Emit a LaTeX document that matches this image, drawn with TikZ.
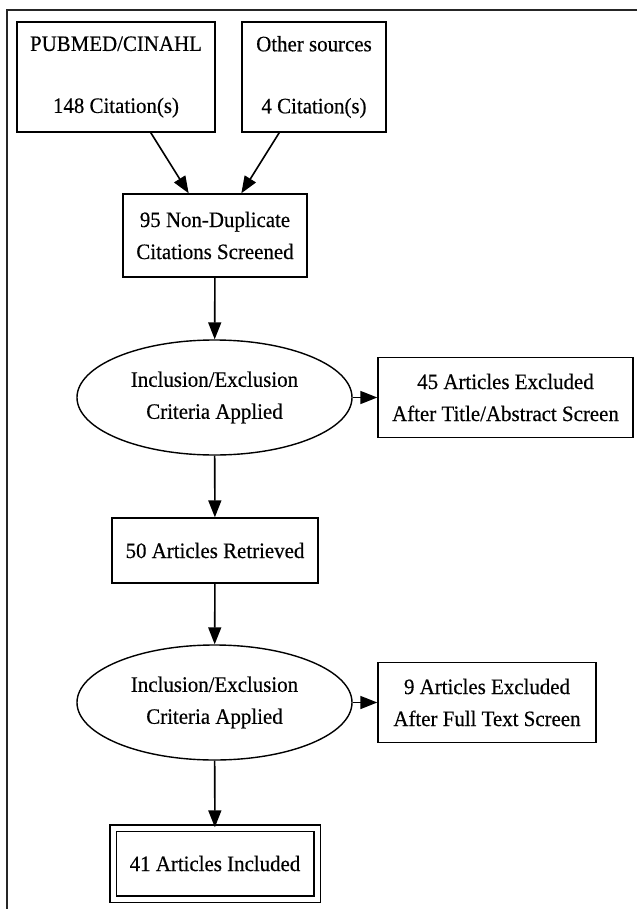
\documentclass[tikz,border=0pt]{standalone}
\usepackage{fontspec}
\setmainfont{Liberation Serif}[FakeStretch=0.95,FakeBold=0.4]
\usepackage{tikz}
\usetikzlibrary{arrows.meta,shapes.geometric}

\begin{document}
\begin{tikzpicture}[x=1pt,y=1pt,>={Triangle[length=17pt,width=13pt]},
    box/.style={draw,rectangle,line width=1.4pt,inner sep=0pt,align=center,
        font=\fontsize{22}{32}\selectfont},
    crit/.style={draw,ellipse,line width=1.4pt,inner sep=0pt,align=center,
        minimum width=275pt,minimum height=115pt,font=\fontsize{22}{32}\selectfont},
    flow/.style={->,line width=1.6pt}]
    \useasboundingbox (0,0) rectangle (637,-909);
    \draw[line width=2.4pt,black!85] (637,-10) -- (7,-10) -- (7,-909);
    % sources
    \node[box,minimum width=198pt,minimum height=110pt] (pubmed) at (116,-77)
        {PUBMED/CINAHL\\[30pt]148 Citation(s)};
    \node[box,minimum width=144pt,minimum height=110pt] (other) at (314,-77)
        {Other sources\\[30pt]4 Citation(s)};
    \node[box,minimum width=184pt,minimum height=83pt] (screened) at (215,-235.5)
        {95 Non-Duplicate\\Citations Screened};
    % first screen
    \node[crit] (crit1) at (214.5,-397.5) {Inclusion/Exclusion\\Criteria Applied};
    \node[box,minimum width=255pt,minimum height=80pt] (excl1) at (505.5,-397.5)
        {45 Articles Excluded\\After Title/Abstract Screen};
    \node[box,minimum width=206pt,minimum height=65pt] (retrieved) at (215,-550.5)
        {50 Articles Retrieved};
    % second screen
    \node[crit] (crit2) at (214.5,-702.5) {Inclusion/Exclusion\\Criteria Applied};
    \node[box,minimum width=218pt,minimum height=80pt] (excl2) at (487,-702.5)
        {9 Articles Excluded\\After Full Text Screen};
    \node[box,double,double distance=5pt,minimum width=204pt,minimum height=71pt]
        (included) at (215,-863.5) {41 Articles Included};

    \draw[flow] (pubmed) -- (screened);
    \draw[flow] (other) -- (screened);
    \draw[flow] (screened) -- (crit1);
    \draw[flow] (crit1) -- (excl1);
    \draw[flow] (crit1) -- (retrieved);
    \draw[flow] (retrieved) -- (crit2);
    \draw[flow] (crit2) -- (excl2);
    \draw[flow] (crit2) -- (included);
\end{tikzpicture}
\end{document}
